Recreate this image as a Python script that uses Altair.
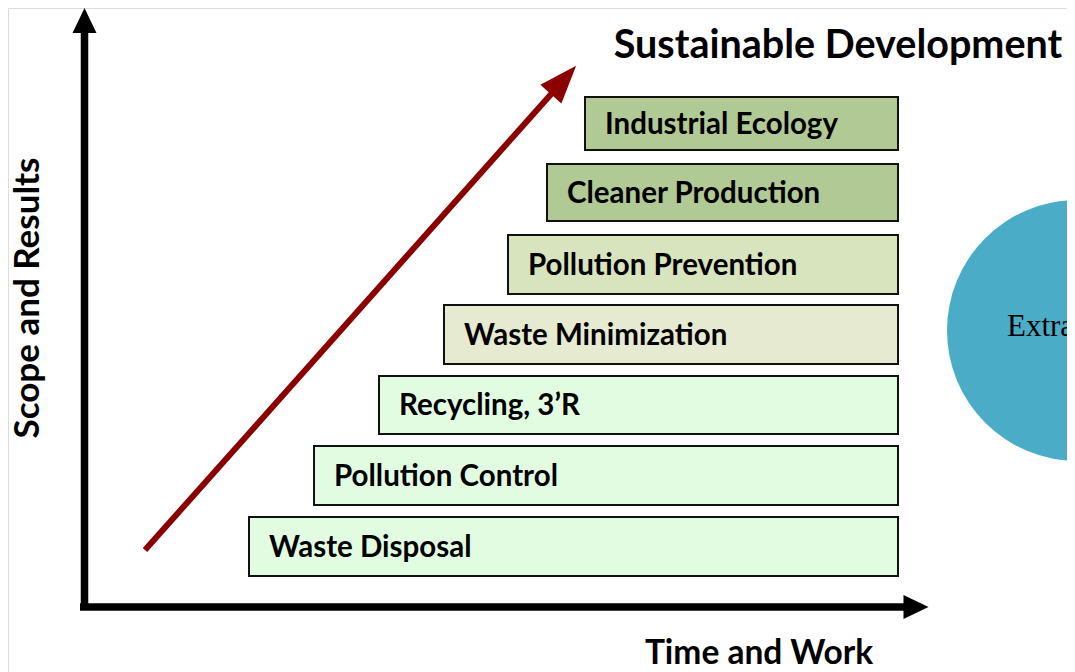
import altair as alt
import pandas as pd

# ---- data ----
stages = ["Waste Disposal", "Pollution Control", "Recycling, 3\u2019R", "Waste Minimization",
          "Pollution Prevention", "Cleaner Production", "Industrial Ecology"]
stage_start = [249, 314, 379, 444, 508, 547, 585]
stage_end = [898, 898, 898, 898, 898, 898, 898]
stage_top = [517, 446, 376, 305, 235, 164, 97]
stage_bottom = [576, 505, 434, 364, 294, 221, 150]
stage_fill = ["#e2fce1", "#e2fce1", "#e2fce1", "#e5ead0", "#d7e4bd", "#b0c995", "#b0c995"]

# axis arrows (shaft endpoints and head centres)
axis_x0 = [84.5, 80]
axis_y0 = [610, 607]
axis_x1 = [84.5, 906]
axis_y1 = [28, 607]
head_x = [84.5, 916]
head_y = [20.5, 607]
head_angle = [0, 90]

# trend arrow
trend_x0 = [145]
trend_y0 = [550]
trend_x1 = [553]
trend_y1 = [92]
trend_head_x = [563.5]
trend_head_y = [80]
trend_head_angle = [41.6]

# circle
circle_x = [1077.5]
circle_y = [330.5]

texts = ["Sustainable Development", "Time and Work", "Scope and Results"]
text_x = [838, 759, 28]
text_y = [46, 654, 298]
text_angle = [0, 0, 270]
text_size = [39.5, 33.5, 35]

FONT = "Lato"
W = 1059
H = 664
xs = alt.Scale(domain=[8, 8 + W], nice=False, zero=False)
ys = alt.Scale(domain=[8, 8 + H], nice=False, zero=False, reverse=True)

def X(f):
    return alt.X(f, type="quantitative", scale=xs, axis=None)

def Y(f):
    return alt.Y(f, type="quantitative", scale=ys, axis=None)

bars_df = pd.DataFrame({
    "stage": stages, "x0": stage_start, "x1": stage_end,
    "y0": stage_top, "y1": stage_bottom, "fill": stage_fill,
})
bars_df["tx"] = bars_df["x0"] + 20
bars_df["ty"] = (bars_df["y0"] + bars_df["y1"]) / 2 + 1

bars = alt.Chart(bars_df).mark_rect(stroke="#111111", strokeWidth=2).encode(
    x=X("x0"), x2="x1", y=Y("y0"), y2="y1",
    fill=alt.Fill("fill:N", scale=None),
)
bar_labels = alt.Chart(bars_df).mark_text(
    align="left", baseline="middle", font=FONT, fontWeight="bold", fontSize=29.5, color="black"
).encode(x=X("tx"), y=Y("ty"), text="stage:N")

axis_df = pd.DataFrame({"x0": axis_x0, "y0": axis_y0, "x1": axis_x1, "y1": axis_y1})
axis_lines = alt.Chart(axis_df).mark_rule(color="black", strokeWidth=7.5).encode(
    x=X("x0"), y=Y("y0"), x2="x1", y2="y1"
)
head_df = pd.DataFrame({"x": head_x, "y": head_y, "a": head_angle})
axis_heads = alt.Chart(head_df).mark_point(
    shape="M0,-1L0.96,1L-0.96,1Z", filled=True, size=625, color="black", opacity=1, strokeWidth=0
).encode(x=X("x"), y=Y("y"), angle=alt.Angle("a:Q", scale=None))

trend_df = pd.DataFrame({"x0": trend_x0, "y0": trend_y0, "x1": trend_x1, "y1": trend_y1})
trend_line = alt.Chart(trend_df).mark_rule(color="#8b0000", strokeWidth=6).encode(
    x=X("x0"), y=Y("y0"), x2="x1", y2="y1"
)
thead_df = pd.DataFrame({"x": trend_head_x, "y": trend_head_y, "a": trend_head_angle})
trend_head = alt.Chart(thead_df).mark_point(
    shape="M0,-1L0.74,1L-0.74,1Z", filled=True, size=1444, color="#8b0000", opacity=1, strokeWidth=0
).encode(x=X("x"), y=Y("y"), angle=alt.Angle("a:Q", scale=None))

circle_df = pd.DataFrame({"x": circle_x, "y": circle_y, "label": ["Extra"]})
circle = alt.Chart(circle_df).mark_point(
    shape="circle", filled=True, size=68121, color="#4aacc6", opacity=1, strokeWidth=0
).encode(x=X("x"), y=Y("y"))
circle_text = alt.Chart(circle_df).mark_text(
    align="left", baseline="alphabetic", font="Liberation Serif", fontSize=31, color="black", dx=-70.5, dy=5.5
).encode(x=X("x"), y=Y("y"), text="label:N")

text_df = pd.DataFrame({"t": texts, "x": text_x, "y": text_y, "a": text_angle, "s": text_size})
titles = alt.Chart(text_df).mark_text(
    align="center", baseline="middle", font=FONT, fontWeight="bold", color="black"
).encode(
    x=X("x"), y=Y("y"), text="t:N",
    angle=alt.Angle("a:Q", scale=None),
    size=alt.Size("s:Q", scale=None),
)

chart = alt.layer(
    circle, circle_text, bars, bar_labels, axis_lines, axis_heads, trend_line, trend_head, titles
).properties(
    width=W, height=H, padding=0, autosize="none"
).configure_view(stroke=None).configure(background="white")

chart.save("out.html", embed_options={"renderer": "svg", "actions": False})
